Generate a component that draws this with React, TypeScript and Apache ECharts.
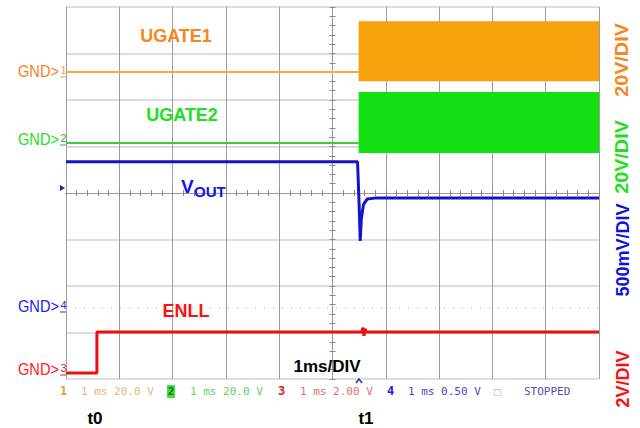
import React, { useEffect, useRef } from "react";
import * as echarts from "echarts";

// Time axis in ms (1 ms/DIV, 10 divisions). Values in volts per channel.
const ugate1Time = [0, 5.49];
const ugate1Volts = [0, 0];
const ugate1Band = [5.49, 10, -3.9, 21.9]; // start ms, end ms, low V, high V (switching envelope)

const ugate2Time = [0, 5.49];
const ugate2Volts = [0, 0];
const ugate2Band = [5.49, 10, -4.3, 21.9];

const voutTime = [0, 5.47, 5.5, 5.52, 5.54, 5.58, 5.65, 5.79, 10];
const voutVolts = [1.57, 1.57, 1.1, 0.72, 0.95, 1.11, 1.17, 1.18, 1.18];

const enllTime = [0, 0.58, 0.58, 5.55, 5.57, 5.59, 5.61, 5.63, 10];
const enllVolts = [0, 0, 1.76, 1.76, 1.95, 1.6, 1.9, 1.76, 1.76];

// channel settings: V/DIV and ground position (divisions from screen centre)
const channelNames = ["UGATE1", "UGATE2", "ENLL", "VOUT"];
const channelScale = [20, 20, 2, 0.5];
const channelGnd = [2.6, 1.075, -3.87, -2.47];
const channelColors = ["#F7861C", "#20E020", "#FF1010", "#1515F0"];
const scaleLabels = ["20V/DIV", "20V/DIV", "2V/DIV", "500mV/DIV"];

const statusItems = [
  { t: "1", x: 60, c: "#E8A030", b: true },
  { t: "1 ms 20.0 V", x: 81, c: "#E0B878", b: false },
  { t: "1 ms 20.0 V", x: 190, c: "#60D060", b: false },
  { t: "3", x: 278, c: "#E02020", b: true },
  { t: "1 ms 2.00 V", x: 300, c: "#E07070", b: false },
  { t: "4", x: 387, c: "#2020D0", b: true },
  { t: "1 ms 0.50 V", x: 408, c: "#4848C0", b: false },
  { t: "\u25A1", x: 494, c: "#B8B8B8", b: false },
  { t: "STOPPED", x: 524, c: "#5050B0", b: false },
];

const toDiv = (ch: number, v: number) => channelGnd[ch] + v / channelScale[ch];
const pairs = (ch: number, ts: number[], vs: number[]) => ts.map((t, i) => [t, toDiv(ch, vs[i])]);

function bandSeries(ch: number, band: number[], color: string) {
  return {
    type: "custom",
    xAxisIndex: 0,
    yAxisIndex: 0,
    z: 2,
    silent: true,
    renderItem: (_p: any, api: any) => {
      const p1 = api.coord([api.value(0), api.value(3)]);
      const p2 = api.coord([api.value(1), api.value(2)]);
      return {
        type: "rect",
        shape: { x: p1[0], y: p1[1], width: p2[0] - p1[0], height: p2[1] - p1[1] },
        style: { fill: color },
      };
    },
    encode: { x: [0, 1], y: [2, 3] },
    data: [[band[0], band[1], toDiv(ch, band[2]), toDiv(ch, band[3])]],
  };
}

const FONT = "'Liberation Sans', Arial, sans-serif";

export default function App() {
  const ref = useRef<HTMLDivElement>(null);
  useEffect(() => {
    if (!ref.current) return;
    const chart = echarts.init(ref.current, null, { renderer: "svg" });
    const gridBox = { left: 66, top: 7, width: 533, height: 372 };
    const hColors = [0, 1, 2, 3, 4, 5, 6, 7, 8].map((i) => (i === 4 ? "rgba(0,0,0,0)" : "#d2d2d2"));
    const reticleAxis = (inside: boolean) => ({
      show: true,
      axisLine: { show: true, onZero: true, lineStyle: { color: "#9a9a9a", width: 1 } },
      axisTick: { show: true, inside, length: 3, lineStyle: { color: "#8a8a8a" } },
      minorTick: { show: true, splitNumber: 5, length: 3, lineStyle: { color: "#8a8a8a" } },
      axisLabel: { show: false },
      splitLine: { show: false },
    });

    const graphic: any[] = [];
    const txt = (text: string, x: number, y: number, color: string, size: number, extra: any = {}) => ({
      type: "text",
      x,
      y,
      silent: true,
      z: 100,
      ...extra,
      style: {
        text,
        fill: color,
        font: `${extra.weight || "bold"} ${size}px ${extra.family || FONT}`,
        align: extra.align || "center",
        verticalAlign: "middle",
      },
    });
    // trace labels
    graphic.push(txt(channelNames[0], 176, 36, channelColors[0], 18));
    graphic.push(txt(channelNames[1], 182, 115, channelColors[1], 18));
    graphic.push(txt("V", 181, 186, channelColors[3], 19, { align: "left" }));
    graphic.push(txt("OUT", 194, 191, channelColors[3], 15, { align: "left" }));
    graphic.push(txt(channelNames[2], 186, 311, channelColors[2], 18));
    graphic.push(txt("1ms/DIV", 327, 366, "#000", 17));
    graphic.push(txt("t0", 95, 418, "#000", 17));
    graphic.push(txt("t1", 366, 418, "#000", 17));
    // right scale labels (rotated)
    graphic.push(txt(scaleLabels[0], 622, 60, channelColors[0], 18, { rotation: Math.PI / 2, scaleX: 1.1 }));
    graphic.push(txt(scaleLabels[1], 622, 157, channelColors[1], 18, { rotation: Math.PI / 2, scaleX: 1.1 }));
    graphic.push(txt(scaleLabels[3], 623, 250, "#1010E0", 18, { rotation: Math.PI / 2 }));
    graphic.push(txt(scaleLabels[2], 623, 379, "#FF1010", 18, { rotation: Math.PI / 2 }));
    // GND markers
    const gnd = [
      { y: 71, c: "#F5821F", d: "1", dc: "#D8A860" },
      { y: 139, c: "#22E022", d: "2", dc: "#30B030" },
      { y: 306, c: "#2020F0", d: "4", dc: "#3030C0" },
      { y: 369, c: "#FF2020", d: "3", dc: "#C03040" },
    ];
    gnd.forEach((g) => {
      graphic.push(txt("GND>", 59, g.y, g.c, 17, { align: "right", weight: "normal", scaleX: 0.86 }));
      graphic.push(txt(g.d, 63.5, g.y - 1, g.dc, 11, { weight: "normal" }));
      graphic.push({ type: "line", silent: true, z: 100, shape: { x1: 60, y1: g.y + 6, x2: 66, y2: g.y + 6 }, style: { stroke: g.dc, lineWidth: 1 } });
    });
    // ch4 offset marker and trigger marker
    graphic.push({ type: "polygon", silent: true, z: 100, shape: { points: [[60, 185], [65, 188], [60, 191]] }, style: { fill: "#2020A0" } });
    graphic.push({ type: "polyline", silent: true, z: 100, shape: { points: [[356, 383], [359, 379], [362, 383]] }, style: { stroke: "#2030C0", lineWidth: 1.5, fill: "none" } });
    // status bar
    graphic.push({ type: "rect", silent: true, z: 100, shape: { x: 167, y: 385, width: 8, height: 13 }, style: { fill: "#40E040" } });
    graphic.push(txt("2", 171, 391, "#107010", 11, { weight: "bold", family: "'DejaVu Sans Mono', monospace" }));
    statusItems.forEach((s) =>
      graphic.push(
        txt(s.t, s.x, 391, s.c, s.b ? 12 : 11, {
          align: "left",
          weight: s.b ? "bold" : "normal",
          family: "'DejaVu Sans Mono', monospace",
        })
      )
    );

    chart.setOption({
      animation: false,
      backgroundColor: "#ffffff",
      grid: [
        { ...gridBox, show: false },
        { ...gridBox, show: false },
      ],
      xAxis: [
        {
          gridIndex: 0,
          type: "value",
          min: 0,
          max: 10,
          interval: 1,
          axisLine: { show: false },
          axisTick: { show: false },
          axisLabel: { show: false },
          splitLine: { show: true, lineStyle: { color: "#9c9c9c", width: 1 } },
        },
        { gridIndex: 1, type: "value", min: -5, max: 5, interval: 1, position: "bottom", ...reticleAxis(true) },
        { gridIndex: 1, type: "value", min: -5, max: 5, interval: 1, position: "bottom", ...reticleAxis(false) },
      ],
      yAxis: [
        {
          gridIndex: 0,
          type: "value",
          min: -4,
          max: 4,
          interval: 1,
          axisLine: { show: false },
          axisTick: { show: false },
          axisLabel: { show: false },
          splitLine: { show: true, lineStyle: { color: hColors, width: 1.5 } },
        },
        { gridIndex: 1, type: "value", min: -4, max: 4, interval: 1, position: "left", ...reticleAxis(true) },
        { gridIndex: 1, type: "value", min: -4, max: 4, interval: 1, position: "left", ...reticleAxis(false) },
      ],
      series: [
        bandSeries(0, ugate1Band, "#F7A20C"),
        bandSeries(1, ugate2Band, "#12E012"),
        {
          name: channelNames[0],
          type: "line",
          xAxisIndex: 0,
          yAxisIndex: 0,
          z: 3,
          symbol: "none",
          lineStyle: { color: "#F2A83A", width: 2 },
          data: pairs(0, ugate1Time, ugate1Volts),
        },
        {
          name: channelNames[1],
          type: "line",
          xAxisIndex: 0,
          yAxisIndex: 0,
          z: 3,
          symbol: "none",
          lineStyle: { color: "#3CCB3C", width: 2 },
          data: pairs(1, ugate2Time, ugate2Volts),
        },
        {
          name: channelNames[3],
          type: "line",
          xAxisIndex: 0,
          yAxisIndex: 0,
          z: 4,
          symbol: "none",
          lineStyle: { color: "#1414C8", width: 3 },
          data: pairs(3, voutTime, voutVolts),
          markLine: {
            silent: true,
            symbol: "none",
            label: { show: false },
            lineStyle: { color: "#c0c0c0", type: [1, 8], width: 1.5 },
            data: [{ yAxis: toDiv(3, 0) }],
          },
        },
        {
          name: channelNames[2],
          type: "line",
          xAxisIndex: 0,
          yAxisIndex: 0,
          z: 4,
          symbol: "none",
          lineStyle: { color: "#EA1010", width: 3 },
          data: pairs(2, enllTime, enllVolts),
        },
      ],
      graphic,
    });
    return () => chart.dispose();
  }, []);
  return <div ref={ref} style={{ position: "fixed", left: 0, top: 0, width: 640, height: 428 }} />;
}
